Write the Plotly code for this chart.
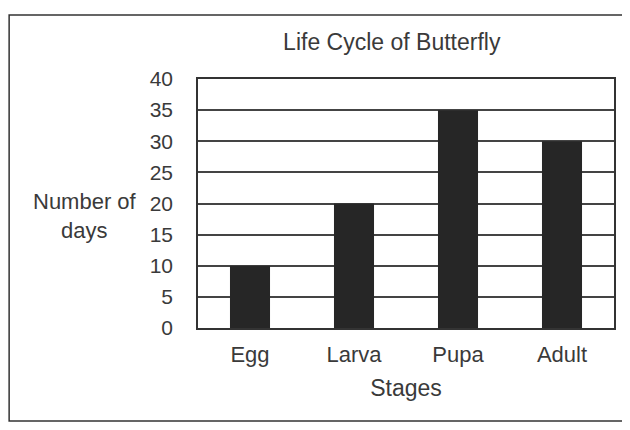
import plotly.graph_objects as go

stages = ["Egg", "Larva", "Pupa", "Adult"]
days = [10, 20, 35, 30]
y_ticks = [0, 5, 10, 15, 20, 25, 30, 35, 40]

font_family = "Liberation Sans, Arial, sans-serif"
text_color = "#3a3a3a"

fig = go.Figure()
fig.add_trace(go.Bar(
    x=stages, y=days,
    marker=dict(color="#262626", line=dict(width=0)),
    width=0.385,
))

fig.update_layout(
    width=622, height=422,
    margin=dict(l=190, r=16, t=71, b=102),
    paper_bgcolor="white", plot_bgcolor="white",
    showlegend=False,
    font=dict(family=font_family, color=text_color, size=21),
    title=dict(text="Life Cycle of Butterfly", x=0.617, xanchor="center",
               y=0.919, yanchor="middle", font=dict(size=23, color=text_color)),
    xaxis=dict(showline=True, linecolor="#333", linewidth=1.5, mirror=True,
               ticks="", tickfont=dict(size=22), showgrid=False,
               ticklabelstandoff=6,
               title=dict(text="Stages", font=dict(size=23), standoff=14)),
    yaxis=dict(range=[0, 40], tickvals=y_ticks, showline=True, linecolor="#333",
               linewidth=1.5, mirror=True, ticks="", showgrid=True,
               gridcolor="#444", gridwidth=1.5, tickfont=dict(size=21),
               ticklabelstandoff=19, zeroline=False),
    shapes=[dict(type="rect", xref="paper", yref="paper",
                 x0=-0.454, x1=1.034, y0=-0.373, y1=1.257,
                 line=dict(color="#333", width=1.5))],
    annotations=[dict(text="Number of<br>days", xref="paper", yref="paper",
                      x=-0.272, y=0.448, xanchor="center", yanchor="middle",
                      showarrow=False,
                      font=dict(size=22, color=text_color), align="center")],
)

fig.write_html("out.html")
